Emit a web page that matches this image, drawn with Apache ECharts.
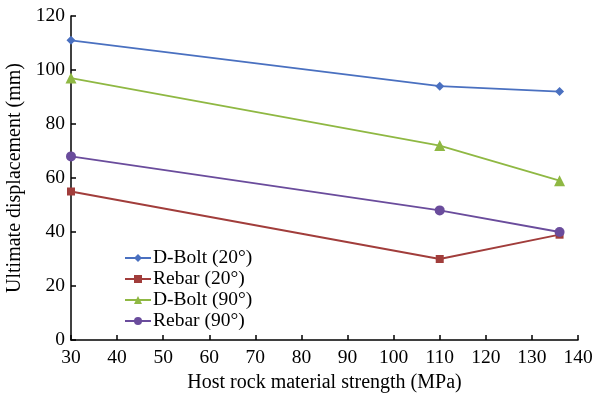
<!DOCTYPE html>
<html><head><meta charset="utf-8">
<script src="https://cdn.jsdelivr.net/npm/echarts@6/dist/echarts.min.js"></script>
<style>html,body{margin:0;padding:0;background:#fff}#c{width:594px;height:393px}</style>
</head><body><div id="c"></div>
<script>
const strengths = [30, 110, 136];
const seriesNames = ['D-Bolt (20°)', 'Rebar (20°)', 'D-Bolt (90°)', 'Rebar (90°)'];
const dbolt20 = [111, 94, 92];
const rebar20 = [55, 30, 39];
const dbolt90 = [97, 72, 59];
const rebar90 = [68, 48, 40];
const xTicks = [30, 40, 50, 60, 70, 80, 90, 100, 110, 120, 130, 140];
const yTicks = [0, 20, 40, 60, 80, 100, 120];

const colors = ['#4a70c0', '#a13d3b', '#8fb843', '#6a4c9c'];
const symbols = ['diamond', 'rect', 'triangle', 'circle'];
const sizes = [9, 8, 11, 10];
const values = [dbolt20, rebar20, dbolt90, rebar90];
const font = 'Liberation Serif';

const chart = echarts.init(document.getElementById('c'));
chart.setOption({
  animation: false,
  grid: {left: 71, right: 16, top: 16, bottom: 53, containLabel: false, outerBoundsMode: 'none'},
  legend: {
    orient: 'vertical', left: 119, top: 243, itemWidth: 26, itemHeight: 10, itemGap: 1,
    textStyle: {fontFamily: font, fontSize: 19.5, lineHeight: 18, color: '#000', padding: [0, 0, 0, -3]},
    data: seriesNames
  },
  xAxis: {
    type: 'value', min: xTicks[0], max: xTicks[xTicks.length - 1], interval: 10,
    name: 'Host rock material strength (MPa)', nameLocation: 'middle', nameGap: 33,
    nameTextStyle: {fontFamily: font, fontSize: 20, color: '#000'},
    axisLine: {show: true, lineStyle: {color: '#000', width: 1.5}},
    axisTick: {show: true, inside: true, length: 5, lineStyle: {color: '#000', width: 1.5}},
    axisLabel: {fontFamily: font, fontSize: 19.5, color: '#000', margin: 8},
    splitLine: {show: false}
  },
  yAxis: {
    type: 'value', min: yTicks[0], max: yTicks[yTicks.length - 1], interval: 20,
    name: 'Ultimate displacement (mm)', nameLocation: 'middle', nameGap: 46,
    nameTextStyle: {fontFamily: font, fontSize: 20, color: '#000'},
    axisLine: {show: true, lineStyle: {color: '#000', width: 1.5}},
    axisTick: {show: true, inside: true, length: 5, lineStyle: {color: '#000', width: 1.5}},
    axisLabel: {fontFamily: font, fontSize: 19.5, color: '#000', margin: 6},
    splitLine: {show: false}
  },
  series: seriesNames.map((n, i) => ({
    name: n, type: 'line',
    data: strengths.map((x, j) => [x, values[i][j]]),
    symbol: symbols[i], symbolSize: sizes[i], showAllSymbol: true,
    lineStyle: {color: colors[i], width: 1.8},
    itemStyle: {color: colors[i]},
    clip: false
  }))
});
</script></body></html>
